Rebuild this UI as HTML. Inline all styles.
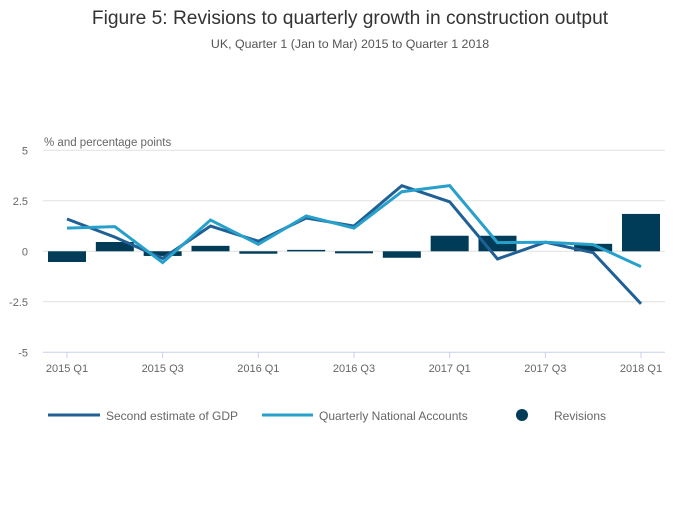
<!DOCTYPE html>
<html><head><meta charset="utf-8"><style>
body{margin:0;background:#fff;font-family:"Liberation Sans",sans-serif;}
</style></head><body>
<svg width="700" height="502" xmlns="http://www.w3.org/2000/svg" id="svg">
<text x="350" y="24" text-anchor="middle" font-size="19.2" fill="#333">Figure 5: Revisions to quarterly growth in construction output</text>
<text x="350" y="48" text-anchor="middle" font-size="12.4" fill="#555">UK, Quarter 1 (Jan to Mar) 2015 to Quarter 1 2018</text>
<text x="44" y="146" font-size="11.5" fill="#666">% and percentage points</text>
<g id="grid"></g><g id="bars"></g><g id="lines"></g><g id="xaxis"></g>
<g>
<line x1="48" y1="415" x2="100" y2="415" stroke="#206095" stroke-width="3"/>
<text x="106" y="420" font-size="12" fill="#666">Second estimate of GDP</text>
<line x1="262" y1="415" x2="313" y2="415" stroke="#27a0cc" stroke-width="3"/>
<text x="319" y="420" font-size="12" fill="#666">Quarterly National Accounts</text>
<circle cx="522" cy="415" r="6" fill="#003c57"/>
<text x="554" y="420" font-size="12" fill="#666">Revisions</text>
</g>
</svg>
<script>
const categories=["2015 Q1","2015 Q2","2015 Q3","2015 Q4","2016 Q1","2016 Q2","2016 Q3","2016 Q4","2017 Q1","2017 Q2","2017 Q3","2017 Q4","2018 Q1"];
const gdp=[1.6,0.7,-0.35,1.25,0.5,1.65,1.25,3.25,2.45,-0.38,0.45,-0.07,-2.6];
const qna=[1.15,1.22,-0.56,1.55,0.35,1.75,1.15,2.95,3.25,0.43,0.45,0.33,-0.76];
const revisions=[-0.53,0.46,-0.23,0.27,-0.12,0.07,-0.1,-0.32,0.77,0.77,0,0.37,1.85];
const yTicks=[5,2.5,0,-2.5,-5];
const yTickLabels=["5","2.5","0","-2.5","-5"];
const xLabelIdx=[0,2,4,6,8,10,12];
const NS="http://www.w3.org/2000/svg";
const x=i=>67+i*(641-67)/12;
const y=v=>251.3-v*20.2;
function mk(tag,attrs,parent){const e=document.createElementNS(NS,tag);for(const k in attrs)e.setAttribute(k,attrs[k]);document.getElementById(parent).appendChild(e);return e;}
yTicks.forEach((t,i)=>{
 const l=mk('line',{x1:43,x2:665,y1:y(t),y2:y(t),stroke:t===-5?'#c5d3e8':'#e0e0e0','stroke-width':1},'grid');
 
 
 const tx=mk('text',{x:28,y:y(t)+4,'font-size':11,fill:'#666','text-anchor':'end'},'grid');
 tx.textContent=yTickLabels[i];
 
 
});
revisions.forEach((v,i)=>{
 const r=mk('rect',{x:x(i)-19,width:38,y:Math.min(y(v),y(0)),height:Math.max(Math.abs(y(v)-y(0)),v===0?0:1.5),fill:'#003c57'},'bars');
 
 
});
[[gdp,'#206095','gdp-line'],[qna,'#27a0cc','qna-line']].forEach(([d,c,n])=>{
 const p=mk('polyline',{points:d.map((v,i)=>x(i)+','+y(v)).join(' '),fill:'none',stroke:c,'stroke-width':3,'stroke-linejoin':'miter'},'lines');
 
 
});
xLabelIdx.forEach(i=>{
 const l=mk('line',{x1:x(i),x2:x(i),y1:352,y2:358,stroke:'#c5d3e8'},'xaxis');
 
 
 const t=mk('text',{x:x(i),y:372,'font-size':11,fill:'#666','text-anchor':'middle'},'xaxis');
 t.textContent=categories[i];
 
 
});
</script>
</body></html>
